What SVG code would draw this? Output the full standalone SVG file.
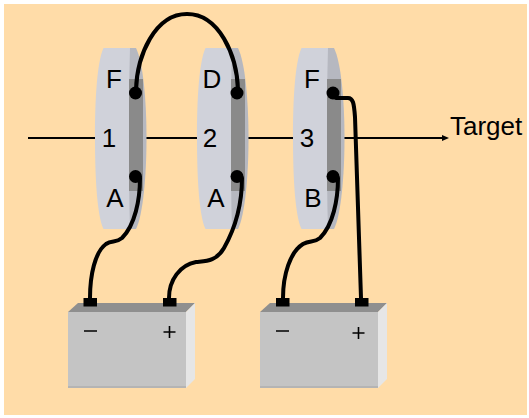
<svg xmlns="http://www.w3.org/2000/svg" width="529" height="418" viewBox="0 0 529 418">
<style>
.t{font-family:"Liberation Sans",Arial,sans-serif;font-size:26px;fill:#000}
.m{text-anchor:middle}
.w{fill:none;stroke:#000;stroke-width:4;stroke-linecap:round}
.dot{fill:#000}
.side{fill:#b6b8c0}
.face{fill:#d0d2da}
.plate{fill:#8a8a8a}
.bf{fill:#c4c4c4}
.bt{fill:#8f8f8f}
.bs{fill:#e6e6e6}
.be{fill:#b4b4b4}
.term{fill:#000}
.sym{stroke:#000;stroke-width:1.6;fill:none}
</style>
<defs>
<g id="disc">
<path class="side" d="M125 48H136C143 62 146.500 100 146.500 138C146.500 176 143 215 136 229H125Z"/>
<path class="face" d="M103.500 48H130C129 80 129 110 129 138C129 170 129 200 130 229H103.500C97 215 95 176 95 138C95 100 97 62 103.500 48Z"/>
<rect class="plate" x="129" y="79" width="14" height="112"/>
</g>
<g id="battery">
<polygon class="bt" points="68,312 78,303 195,303 186,312"/>
<rect class="bf" x="68" y="312" width="118" height="76"/>
<rect class="be" x="68" y="386" width="118" height="2"/>
<polygon class="bs" points="186,312 195,303 195,379 186,388"/>
</g>
</defs>
<rect x="0" y="0" width="529" height="418" fill="#fff"/>
<rect x="4" y="4" width="523" height="411" fill="#ffdca8"/>
<g id="beam">
<path d="M28 138H444" stroke="#000" stroke-width="1.800" fill="none"/>
<polygon points="449,138 442,135 442,141" fill="#000"/>
</g>
<g id="disc1"><use href="#disc"/><text class="t m" x="114" y="88">F</text><text class="t m" x="109" y="147">1</text><text class="t m" x="115" y="207">A</text></g>
<g id="disc2"><use href="#disc" x="102"/><text class="t m" x="212" y="88">D</text><text class="t m" x="210" y="147">2</text><text class="t m" x="216" y="207">A</text></g>
<g id="disc3"><use href="#disc" x="198"/><text class="t m" x="312" y="88">F</text><text class="t m" x="307" y="147">3</text><text class="t m" x="313" y="207">B</text></g>
<g id="battery1"><use href="#battery"/><rect class="term" x="83.500" y="298" width="13.500" height="8.500"/><rect class="term" x="163" y="298" width="13.500" height="8.500"/><path class="sym" d="M84 331H97M169.500 326V338M163.500 332H175.500"/></g>
<g id="battery2"><use href="#battery" x="192"/><rect class="term" x="276" y="298" width="13.500" height="8.500"/><rect class="term" x="355" y="298" width="13.500" height="8.500"/><path class="sym" d="M276 331H289M358.500 327V339M352.500 333H364.500"/></g>
<g id="connectors">
<path class="w" d="M136 90C137 55 155 14 187 14C219 14 237 55 238 90"/>
<path class="w" d="M140 178C140 200 135 225 122 238C116 243 112 240 106 244C95 252 90 275 90 298"/>
<path class="w" d="M242 178C242 200 237 225 224 248C216 262 205 261 196 262C180 265 169 280 169 298"/>
<path class="w" d="M338 178C338 200 333 225 320 238C314 243 310 240 303 244C290 252 283 275 283 298"/>
<path class="w" d="M336 98H348C353 98 354 103 355 117L361 298"/>
<circle class="dot" cx="135.500" cy="93" r="6.500"/><circle class="dot" cx="135.500" cy="176.500" r="6.500"/>
<circle class="dot" cx="237" cy="93" r="6.500"/><circle class="dot" cx="237" cy="176.500" r="6.500"/>
<circle class="dot" cx="333" cy="93" r="6.500"/><circle class="dot" cx="333" cy="176.500" r="6.500"/>
</g>
<text id="target" class="t" x="450" y="135">Target</text>
</svg>
